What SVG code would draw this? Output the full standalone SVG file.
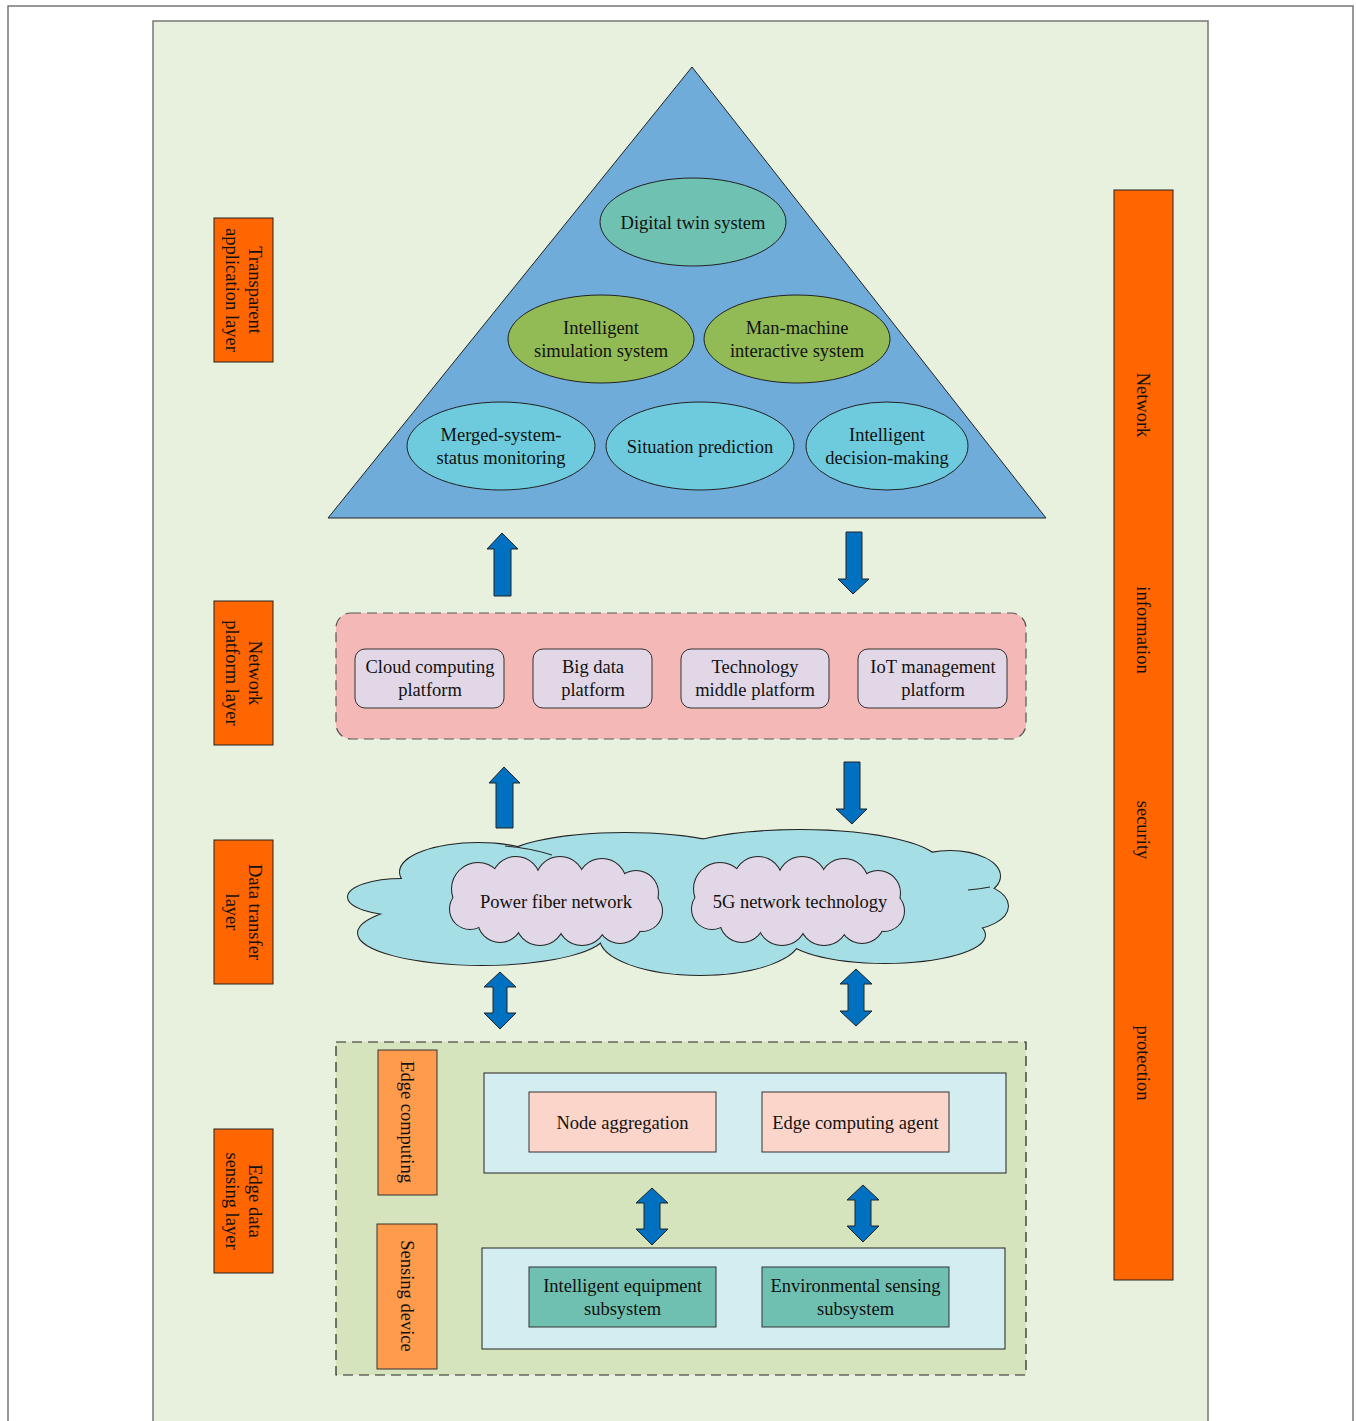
<svg xmlns="http://www.w3.org/2000/svg" width="1356" height="1421" viewBox="0 0 1356 1421">
<style>
text{font-family:"Liberation Serif","Times New Roman",serif;font-size:18.5px;fill:#111;text-anchor:middle}
.lbl{fill:#FF6600;stroke:#222;stroke-width:1}
.lbl2{fill:#FF9B4C;stroke:#333;stroke-width:1}
.ell{stroke:#222;stroke-width:1}
.plat{fill:#E2D7E6;stroke:#333;stroke-width:1}
.arr{fill:#0070C0;stroke:#222;stroke-width:1;stroke-linejoin:miter}
.pinkbox{fill:#FCD5CA;stroke:#333;stroke-width:1}
.tealbox{fill:#6FC0B0;stroke:#333;stroke-width:1}
.lbbox{fill:#D4EDF1;stroke:#222;stroke-width:1}
.inner{fill:none;stroke:#222;stroke-width:1}
</style>
<defs>
<g id="smallcloud">
<g fill="#E2D7E6" stroke="#222" stroke-width="2">
<circle cx="-78" cy="-12" r="26"/><circle cx="-40" cy="-20" r="24"/><circle cx="4" cy="-20" r="24"/><circle cx="46" cy="-18" r="24"/><circle cx="80" cy="-8" r="22"/><circle cx="86" cy="10" r="20"/><circle cx="64" cy="20" r="22"/><circle cx="26" cy="20" r="24"/><circle cx="-16" cy="20" r="24"/><circle cx="-56" cy="19" r="22"/><circle cx="-86" cy="8" r="20"/><ellipse cx="0" cy="0" rx="88" ry="30"/>
</g>
<g fill="#E2D7E6">
<circle cx="-78" cy="-12" r="26"/><circle cx="-40" cy="-20" r="24"/><circle cx="4" cy="-20" r="24"/><circle cx="46" cy="-18" r="24"/><circle cx="80" cy="-8" r="22"/><circle cx="86" cy="10" r="20"/><circle cx="64" cy="20" r="22"/><circle cx="26" cy="20" r="24"/><circle cx="-16" cy="20" r="24"/><circle cx="-56" cy="19" r="22"/><circle cx="-86" cy="8" r="20"/><ellipse cx="0" cy="0" rx="88" ry="30"/>
</g>
</g>
</defs>
<rect x="0" y="0" width="1356" height="1421" fill="#fff"/>
<rect x="8" y="6" width="1345" height="1440" fill="#fff" stroke="#777" stroke-width="1.5"/>
<rect x="153" y="21" width="1055" height="1430" fill="#E8F1DE" stroke="#777" stroke-width="1.5"/>

<g id="layer-labels">
<g id="lbl-app"><rect class="lbl" x="214" y="218" width="59" height="144"/><g transform="translate(243.5,290) rotate(90)"><text x="0" y="-5">Transparent</text><text x="0" y="18">application layer</text></g></g>
<g id="lbl-platform"><rect class="lbl" x="214" y="601" width="59" height="144"/><g transform="translate(243.5,673) rotate(90)"><text x="0" y="-5">Network</text><text x="0" y="18">platform layer</text></g></g>
<g id="lbl-transfer"><rect class="lbl" x="214" y="840" width="59" height="144"/><g transform="translate(243.5,912) rotate(90)"><text x="0" y="-5">Data transfer</text><text x="0" y="18">layer</text></g></g>
<g id="lbl-edge"><rect class="lbl" x="214" y="1129" width="59" height="144"/><g transform="translate(243.5,1201) rotate(90)"><text x="0" y="-5">Edge data</text><text x="0" y="18">sensing layer</text></g></g>
</g>

<g id="security-bar"><rect class="lbl" x="1114" y="190" width="59" height="1090"/>
<g transform="translate(1143.5,405) rotate(90)"><text x="0" y="6.5">Network</text></g>
<g transform="translate(1143.5,630) rotate(90)"><text x="0" y="6.5">information</text></g>
<g transform="translate(1143.5,830) rotate(90)"><text x="0" y="6.5">security</text></g>
<g transform="translate(1143.5,1063) rotate(90)"><text x="0" y="6.5">protection</text></g>
</g>

<g id="application-pyramid">
<polygon points="692,67 328,518 1046,518" fill="#6FACD9" stroke="#222" stroke-width="1"/>
<g id="n-digital-twin"><ellipse class="ell" cx="693" cy="222" rx="93" ry="44" fill="#6FC1B2"/><text x="693" y="229">Digital twin system</text></g>
<g id="n-sim"><ellipse class="ell" cx="601" cy="339" rx="93" ry="44" fill="#92BB55"/><text x="601" y="334">Intelligent</text><text x="601" y="357">simulation system</text></g>
<g id="n-mmi"><ellipse class="ell" cx="797" cy="339" rx="93" ry="44" fill="#92BB55"/><text x="797" y="334">Man-machine</text><text x="797" y="357">interactive system</text></g>
<g id="n-monitor"><ellipse class="ell" cx="501" cy="446" rx="94" ry="44" fill="#6DCBDD"/><text x="501" y="441">Merged-system-</text><text x="501" y="464">status monitoring</text></g>
<g id="n-situation"><ellipse class="ell" cx="700" cy="446" rx="94" ry="44" fill="#6DCBDD"/><text x="700" y="453">Situation prediction</text></g>
<g id="n-decision"><ellipse class="ell" cx="887" cy="446" rx="81" ry="44" fill="#6DCBDD"/><text x="887" y="441">Intelligent</text><text x="887" y="464">decision-making</text></g>
</g>

<g id="network-platform">
<rect x="336" y="613" width="690" height="126" rx="15" fill="#F4B8B6" stroke="#555" stroke-width="1.2" stroke-dasharray="10,6"/>
<g id="n-cloud"><rect class="plat" x="355" y="649" width="149" height="59" rx="10"/><text x="430" y="673">Cloud computing</text><text x="430" y="696">platform</text></g>
<g id="n-bigdata"><rect class="plat" x="533" y="649" width="119" height="59" rx="10"/><text x="593" y="673">Big data</text><text x="593" y="696">platform</text></g>
<g id="n-tech"><rect class="plat" x="681" y="649" width="148" height="59" rx="10"/><text x="755" y="673">Technology</text><text x="755" y="696">middle platform</text></g>
<g id="n-iot"><rect class="plat" x="858" y="649" width="149" height="59" rx="10"/><text x="933" y="673">IoT management</text><text x="933" y="696">platform</text></g>
</g>

<g id="data-transfer">
<g fill="#A6DEE6" stroke="#222" stroke-width="2">
<ellipse cx="402" cy="897" rx="54" ry="18"/>
<ellipse cx="482" cy="933" rx="124" ry="32"/>
<ellipse cx="478" cy="872" rx="78" ry="29"/>
<ellipse cx="625" cy="862" rx="125" ry="29"/>
<ellipse cx="800" cy="864" rx="140" ry="34"/>
<ellipse cx="950" cy="876" rx="50" ry="25"/>
<ellipse cx="962" cy="906" rx="46" ry="24"/>
<ellipse cx="885" cy="935" rx="100" ry="28"/>
<ellipse cx="700" cy="938" rx="100" ry="37"/>
<ellipse cx="680" cy="900" rx="250" ry="40"/>
</g>
<g fill="#A6DEE6">
<ellipse cx="402" cy="897" rx="54" ry="18"/>
<ellipse cx="482" cy="933" rx="124" ry="32"/>
<ellipse cx="478" cy="872" rx="78" ry="29"/>
<ellipse cx="625" cy="862" rx="125" ry="29"/>
<ellipse cx="800" cy="864" rx="140" ry="34"/>
<ellipse cx="950" cy="876" rx="50" ry="25"/>
<ellipse cx="962" cy="906" rx="46" ry="24"/>
<ellipse cx="885" cy="935" rx="100" ry="28"/>
<ellipse cx="700" cy="938" rx="100" ry="37"/>
<ellipse cx="680" cy="900" rx="250" ry="40"/>
</g>
<path class="inner" d="M505,846 Q530,848 552,855"/>
<path class="inner" d="M990,887 Q980,889 968,890"/>
<g id="n-fiber"><use href="#smallcloud" transform="translate(556,901)"/><text x="556" y="908">Power fiber network</text></g>
<g id="n-5g"><use href="#smallcloud" transform="translate(798,901)"/><text x="800" y="908">5G network technology</text></g>
</g>

<g id="edge-sensing">
<rect x="336" y="1042" width="690" height="333" fill="#D6E4BE" stroke="#222" stroke-width="1.2" stroke-dasharray="10,6"/>
<g id="lbl-edgecomp"><rect class="lbl2" x="378" y="1050" width="59" height="145"/><g transform="translate(407.5,1122) rotate(90)"><text x="0" y="6.5">Edge computing</text></g></g>
<g id="lbl-sensdev"><rect class="lbl2" x="377" y="1224" width="60" height="145"/><g transform="translate(407,1296) rotate(90)"><text x="0" y="6.5">Sensing device</text></g></g>
<rect class="lbbox" x="484" y="1073" width="522" height="100"/>
<g id="n-nodeagg"><rect class="pinkbox" x="529" y="1092" width="187" height="60"/><text x="622.5" y="1129">Node aggregation</text></g>
<g id="n-agent"><rect class="pinkbox" x="762" y="1092" width="187" height="60"/><text x="855.5" y="1129">Edge computing agent</text></g>
<rect class="lbbox" x="482" y="1248" width="523" height="101"/>
<g id="n-equip"><rect class="tealbox" x="529" y="1267" width="187" height="60"/><text x="622.5" y="1292">Intelligent equipment</text><text x="622.5" y="1315">subsystem</text></g>
<g id="n-env"><rect class="tealbox" x="762" y="1267" width="187" height="60"/><text x="855.5" y="1292">Environmental sensing</text><text x="855.5" y="1315">subsystem</text></g>
</g>

<g id="connectors">
<polygon class="arr" points="502,533 518,549 511,549 511,596 494,596 494,549 487,549"/>
<polygon class="arr" points="846,532 862,532 862,579 869,579 853,594 838,579 846,579"/>
<polygon class="arr" points="504,767 520,783 513,783 513,828 496,828 496,783 489,783"/>
<polygon class="arr" points="844,762 860,762 860,809 867,809 852,824 836,809 844,809"/>
<polygon class="arr" points="500,972 516,987 507,987 507,1013 516,1013 500,1029 484,1013 493,1013 493,987 484,987"/>
<polygon class="arr" points="856,969 872,984 864,984 864,1011 872,1011 856,1026 840,1011 848,1011 848,984 840,984"/>
<polygon class="arr" points="652,1188 668,1203 660,1203 660,1229 668,1229 652,1245 636,1229 644,1229 644,1203 636,1203"/>
<polygon class="arr" points="863,1185 879,1200 871,1200 871,1226 879,1226 863,1242 847,1226 855,1226 855,1200 847,1200"/>
</g>
</svg>
